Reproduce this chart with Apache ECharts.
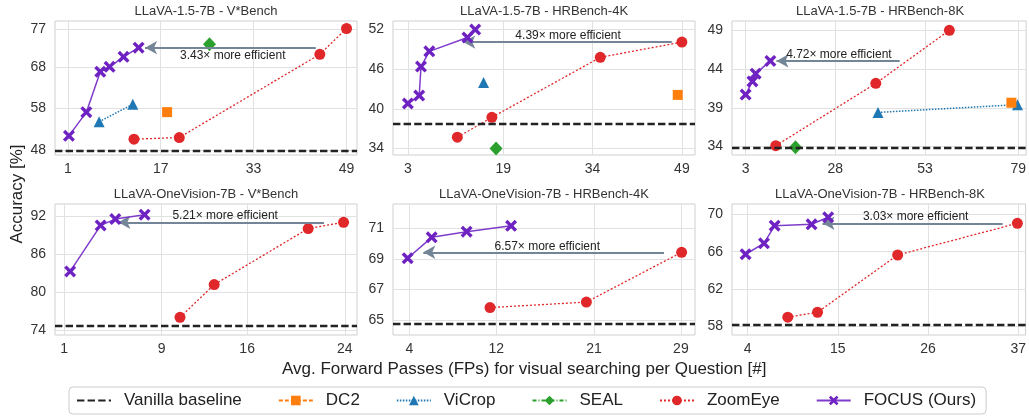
<!DOCTYPE html>
<html><head><meta charset="utf-8">
<script src="https://cdn.jsdelivr.net/npm/echarts@6/dist/echarts.min.js"></script>
<style>html,body{margin:0;padding:0;background:#fff}#c{width:1029px;height:416px}</style>
</head><body><div id="c"></div>
<script>
// ---------- data ----------
const titles = ['LLaVA-1.5-7B - V*Bench','LLaVA-1.5-7B - HRBench-4K','LLaVA-1.5-7B - HRBench-8K',
  'LLaVA-OneVision-7B - V*Bench','LLaVA-OneVision-7B - HRBench-4K','LLaVA-OneVision-7B - HRBench-8K'];
const xTicks = [[1,17,33,49],[3,19,34,49],[3,28,53,79],[1,9,16,24],[4,12,21,29],[4,15,26,37]];
const yTicks = [[48,58,68,77],[34,40,46,52],[34,39,44,49],[74,80,86,92],[65,67,69,71],[58,62,66,70]];
const xRanges = [[-1.2,50.8],[0.5,51.2],[-0.8,81.2],[0.26,25.0],[2.5,30.3],[2.1,37.9]];
const yRanges = [[46.8,79.0],[33.0,53.3],[32.9,50.2],[73.2,94.0],[64.0,72.6],[57.1,71.1]];
const focusData = [
  [[1.2,51.4],[4.2,57.1],[6.6,66.8],[8.2,68.0],[10.6,70.4],[13.2,72.6]],
  [[3.0,40.8],[4.9,42.0],[5.2,46.4],[6.6,48.7],[13.0,50.8],[14.3,52.0]],
  [[3.0,40.7],[4.9,42.4],[5.8,43.4],[9.9,45.05]],
  [[1.5,83.3],[4.0,90.6],[5.2,91.6],[7.6,92.3]],
  [[3.85,69.04],[6.06,70.41],[9.28,70.78],[13.37,71.17]],
  [[3.76,65.73],[6.0,66.9],[7.3,68.78],[11.8,68.93],[13.83,69.68]]
];
const zoomEyeData = [
  [[12.4,50.6],[20.2,51.0],[44.4,71.0],[49,77.2]],
  [[11.3,35.7],[17.1,38.7],[35.3,47.8],[49.0,50.1]],
  [[11.4,34.1],[39.3,42.15],[59.8,49.0]],
  [[10.5,76.0],[13.3,81.2],[21.0,90.1],[23.9,91.1]],
  [[11.43,65.8],[20.3,66.16],[29.07,69.43]],
  [[8.9,59.0],[12.53,59.53],[22.3,65.65],[36.9,69.04]]
];
const viCropData = [[[6.4,54.8],[12.2,59.0]], [[15.7,44.0]], [[39.9,38.4],[78.8,39.4]], [], [], []];
const dc2Data = [[[18.1,57.1]], [[48.3,42.1]], [[77.1,39.65]], [], [], []];
const sealData = [[[25.4,73.4]], [[17.8,34.0]], [[16.9,33.9]], [], [], []];
const baselines = [47.8, 37.7, 33.87, 74.6, 64.72, 58.18];
const arrowFromX = [43.7, 47.3, 45.95, 22.3, 27.45, 35.1];
const arrowToX = [14.3, 12.3, 11.6, 5.45, 5.29, 13.14];
const arrowY = [72.6, 50.1, 45.05, 91.1, 69.43, 69.04];
const noteX = [29.4, 29.9, 29.0, 14.2, 16.7, 24.5];
const noteY = [70.6, 51.1, 45.9, 92.1, 69.8, 69.7];
const speedups = ['3.43', '4.39', '4.72', '5.21', '6.57', '3.03'];
const legendNames = ['Vanilla baseline','DC2','ViCrop','SEAL','ZoomEye','FOCUS (Ours)'];

// ---------- layout / style ----------
const FONT = 'Liberation Sans, Arial, Helvetica, sans-serif';
const boxes = [
  {left:55, top:21, width:302, height:134},
  {left:393, top:21, width:302, height:134},
  {left:732, top:21, width:296, height:134},
  {left:55, top:204, width:302, height:131},
  {left:393, top:204, width:302, height:131},
  {left:732, top:204, width:296, height:131}
];
const C = {focus:'#6f22c2', focusLine:'#7f3ccb', zoom:'#e0282b', vicrop:'#1f77b4', dc2:'#ff7f0e', seal:'#2ca02c', base:'#222222', arrow:'#738596'};
const X_PATH = 'path://M2,0 L5,3 L8,0 L10,2 L7,5 L10,8 L8,10 L5,7 L2,10 L0,8 L3,5 L0,2 Z';
const BASE_DASH = [7.4,3.2];

const grids = [], xAxes = [], yAxes = [], series = [], graphics = [];
boxes.forEach((b, i) => {
  grids.push(Object.assign({show:true, borderColor:'#cfcfcf', borderWidth:1, backgroundColor:'rgba(0,0,0,0)'}, b));
  xAxes.push({type:'value', gridIndex:i, min:xRanges[i][0], max:xRanges[i][1],
    axisLine:{show:false}, axisTick:{show:false, customValues:xTicks[i]},
    axisLabel:{customValues:xTicks[i], color:'#333', fontSize:14, margin:7, fontFamily:FONT},
    splitLine:{show:true, lineStyle:{color:'#e1e1e1', width:1}}});
  yAxes.push({type:'value', gridIndex:i, min:yRanges[i][0], max:yRanges[i][1],
    axisLine:{show:false}, axisTick:{show:false, customValues:yTicks[i]},
    axisLabel:{customValues:yTicks[i], color:'#333', fontSize:14, margin:9, fontFamily:FONT},
    splitLine:{show:true, lineStyle:{color:'#e1e1e1', width:1}}});
  const ax = {xAxisIndex:i, yAxisIndex:i};
  series.push(Object.assign({type:'line', name:'Vanilla baseline', data:[], symbol:'none', showSymbol:false,
    lineStyle:{color:C.base, width:2.3, type:BASE_DASH}, itemStyle:{color:C.base},
    markLine:{silent:true, symbol:'none', label:{show:false}, animation:false,
      lineStyle:{color:C.base, width:2.3, type:BASE_DASH}, data:[{yAxis:baselines[i]}]}}, ax));
  series.push(Object.assign({type:'line', name:'ZoomEye', data:zoomEyeData[i], symbol:'circle', symbolSize:11,
    itemStyle:{color:C.zoom}, lineStyle:{color:C.zoom, width:1.3, type:[2,2]}, z:3}, ax));
  series.push(Object.assign({type:'line', name:'ViCrop', data:viCropData[i], symbol:'triangle', symbolSize:11,
    itemStyle:{color:C.vicrop}, lineStyle:{color:C.vicrop, width:1.5, type:[1.5,1.5]}, z:3}, ax));
  series.push(Object.assign({type:'line', name:'DC2', data:dc2Data[i], symbol:'rect', symbolSize:10,
    itemStyle:{color:C.dc2}, lineStyle:{color:C.dc2, width:1.3, type:[4,2]}, z:3}, ax));
  series.push(Object.assign({type:'line', name:'SEAL', data:sealData[i], symbol:'diamond', symbolSize:[13,14],
    itemStyle:{color:C.seal}, lineStyle:{color:C.seal, width:1.3, type:[4,2,1,2]}, z:3}, ax));
  series.push(Object.assign({type:'line', name:'arrow'+i, data:[], symbol:'none', z:4,
    markLine:{silent:true, symbol:['none','arrow'], symbolSize:[10,12], label:{show:false}, animation:false,
      lineStyle:{color:C.arrow, width:2, type:'solid'},
      data:[[{coord:[arrowFromX[i], arrowY[i]]},{coord:[arrowToX[i], arrowY[i]]}]]},
    markPoint:{symbol:'rect', symbolSize:0, silent:true, animation:false,
      label:{show:true, position:'inside', color:'#222', fontSize:12, fontFamily:FONT,
        formatter: speedups[i] + '\u00d7 more efficient'},
      data:[{coord:[noteX[i], noteY[i]]}]}}, ax));
  series.push(Object.assign({type:'line', name:'FOCUS (Ours)', data:focusData[i], symbol:X_PATH, symbolSize:12,
    itemStyle:{color:C.focus}, lineStyle:{color:C.focusLine, width:1.5}, z:5}, ax));
  graphics.push({type:'text', x:b.left + b.width/2, y:b.top - 10,
    style:{text:titles[i], fontSize:13, fontFamily:FONT, fill:'#333',
      textAlign:'center', textVerticalAlign:'middle', align:'center', verticalAlign:'middle'}});
});
graphics.push({type:'text', x:282, y:369,
  style:{text:'Avg. Forward Passes (FPs) for visual searching per Question [#]', fontSize:17, fontFamily:FONT, fill:'#222',
    textAlign:'left', textVerticalAlign:'middle', align:'left', verticalAlign:'middle'}});
graphics.push({type:'text', x:17, y:194, rotation:Math.PI/2,
  style:{text:'Accuracy [%]', fontSize:17, fontFamily:FONT, fill:'#222',
    textAlign:'center', textVerticalAlign:'middle', align:'center', verticalAlign:'middle'}});

const legendData = legendNames.map(n => n === 'Vanilla baseline'
  ? {name:n, itemStyle:{opacity:0}} : {name:n});

const chart = echarts.init(document.getElementById('c'), null, {renderer:'canvas'});
chart.setOption({
  animation:false,
  backgroundColor:'#fff',
  grid:grids, xAxis:xAxes, yAxis:yAxes, series:series, graphic:graphics,
  legend:{data:legendData, left:69, top:387, padding:[5,10,5,7], itemGap:36, itemWidth:34, itemHeight:12,
    borderColor:'#cccccc', borderWidth:1, borderRadius:4, selectedMode:false,
    textStyle:{fontSize:17, color:'#222', fontFamily:FONT, padding:[0,0,0,8]}}
});
</script></body></html>
